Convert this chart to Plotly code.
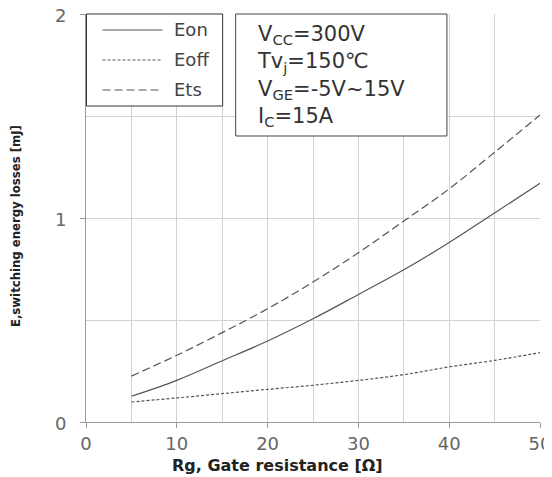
import plotly.graph_objects as go

rg = [5, 10, 15, 20, 25, 30, 35, 40, 45, 50]
eon = [0.126, 0.204, 0.30, 0.397, 0.506, 0.625, 0.746, 0.88, 1.025, 1.17]
eoff = [0.098, 0.118, 0.139, 0.16, 0.18, 0.204, 0.232, 0.27, 0.302, 0.34]
ets = [0.225, 0.327, 0.438, 0.555, 0.686, 0.83, 0.985, 1.143, 1.322, 1.505]

series_names = ["Eon", "Eoff", "Ets"]
series_values = [eon, eoff, ets]
series_dash = ["solid", "3px,2px", "8px,4px"]

cond_lines = ["V<sub>CC</sub>=300V", "Tv<sub>j</sub>=150℃", "V<sub>GE</sub>=-5V~15V", "I<sub>C</sub>=15A"]

LINE_COLOR = "#555555"

fig = go.Figure()
for name, vals, dash in zip(series_names, series_values, series_dash):
    fig.add_trace(go.Scatter(x=rg, y=vals, mode="lines", name=name, line_shape="spline",
                             line=dict(color=LINE_COLOR, width=1.2, dash=dash)))

axis_common = dict(showline=True, linecolor="#999999", linewidth=1, gridcolor="#d2d2d2",
                   gridwidth=1, ticks="outside", ticklen=5, tickcolor="#999999",
                   tickfont=dict(family="DejaVu Sans", size=18, color="#666666"),
                   zeroline=False, automargin=False, ticklabeloverflow="allow")

fig.update_xaxes(range=[0, 50], dtick=10, tick0=0,
                 minor=dict(dtick=5, showgrid=True, gridcolor="#d2d2d2", ticks=""),
                 **axis_common)
fig.update_yaxes(range=[0, 2], dtick=1, tick0=0, ticklabelstandoff=10, ticklabelshift=2,
                 minor=dict(dtick=0.5, showgrid=True, gridcolor="#d2d2d2", ticks=""),
                 **axis_common)

# axis titles
fig.add_annotation(xref="paper", yref="paper", x=0.4229, y=-0.1054, xanchor="center", yanchor="middle",
                   showarrow=False, text="<b>Rg, Gate resistance [Ω]</b>",
                   font=dict(family="DejaVu Sans", size=16, color="#222222"))
fig.add_annotation(xref="paper", yref="paper", x=-0.154, y=0.4804, xanchor="center", yanchor="middle",
                   showarrow=False, textangle=-90, text="<b>E,switching energy losses [mJ]</b>",
                   font=dict(family="DejaVu Sans Condensed", size=13, color="#222222"))

# legend box (drawn in paper coordinates)
fig.add_shape(type="rect", xref="paper", yref="paper", x0=0.0011, x1=0.301, y0=0.7745, y1=1.0,
              line=dict(color="#333333", width=1), fillcolor="white", layer="above")
legend_rows = [0.9608, 0.8873, 0.8137]
for name, dash, yr in zip(series_names, series_dash, legend_rows):
    fig.add_shape(type="line", xref="paper", yref="paper", x0=0.0364, x1=0.1687, y0=yr, y1=yr,
                  line=dict(color=LINE_COLOR, width=1.2, dash=dash), layer="above")
    fig.add_annotation(xref="paper", yref="paper", x=0.1885, y=yr + 0.002, xanchor="left", yanchor="middle",
                       showarrow=False, text=name,
                       font=dict(family="DejaVu Sans", size=18, color="#444444"))

# conditions box
fig.add_shape(type="rect", xref="paper", yref="paper", x0=0.3297, x1=0.795, y0=0.701, y1=1.0,
              line=dict(color="#444444", width=1), fillcolor="white", layer="above")
fig.add_annotation(xref="paper", yref="paper", x=0.3716, y=0.986, xanchor="left", yanchor="top",
                   align="left", showarrow=False, text="<br>".join(cond_lines),
                   font=dict(family="DejaVu Sans", size=21, color="#333333"))

fig.update_layout(
    width=544, height=469,
    margin=dict(l=78, r=12, t=6, b=55),
    plot_bgcolor="white", paper_bgcolor="white",
    showlegend=False,
)

fig.write_html("out.html")
